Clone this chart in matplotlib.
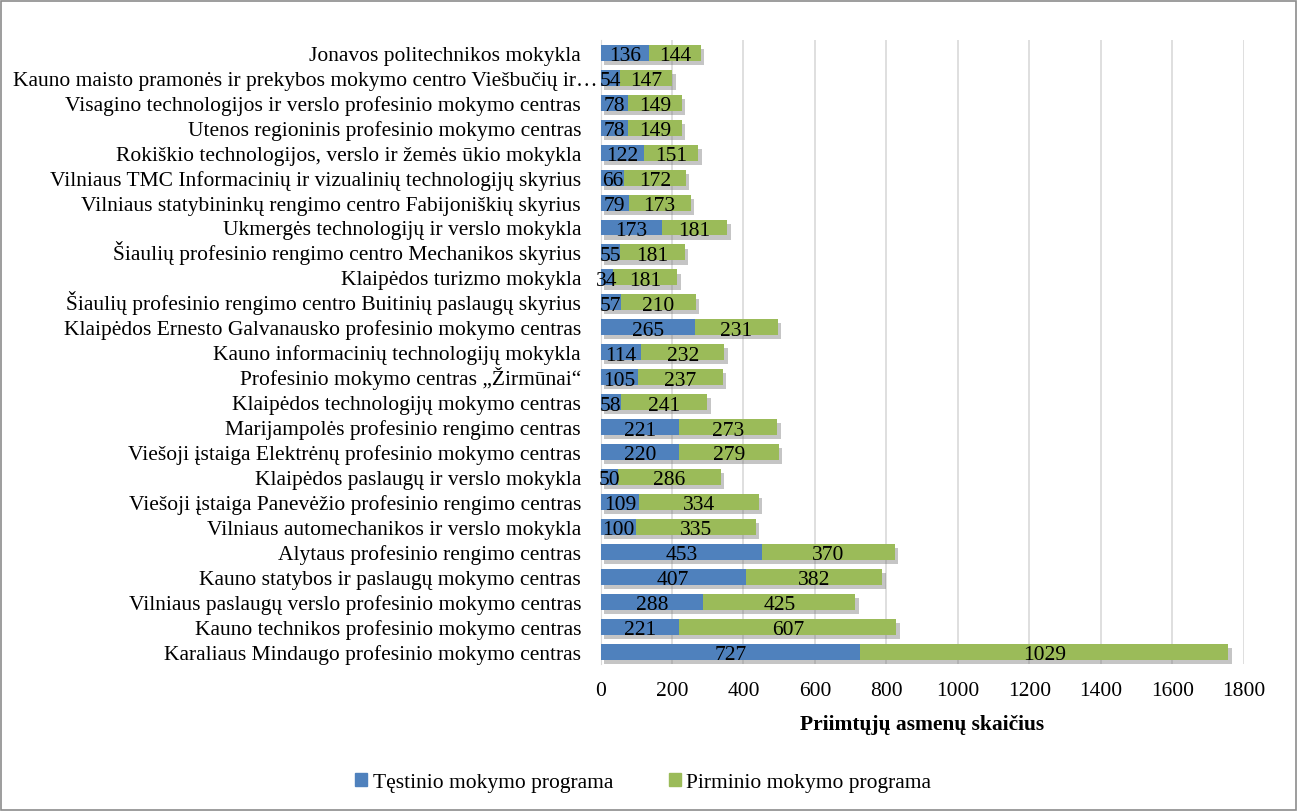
import numpy as np
import matplotlib
matplotlib.use("Agg")
import matplotlib.pyplot as plt
import matplotlib.patheffects as pe
import matplotlib.transforms as mtransforms
from matplotlib.patches import Rectangle, Patch

plt.rcParams['font.family'] = ['Liberation Serif', 'DejaVu Serif']

# Schools, listed from the bottom of the chart to the top
schools = [
    "Karaliaus Mindaugo profesinio mokymo centras",
    "Kauno technikos profesinio mokymo centras",
    "Vilniaus paslaugų verslo profesinio mokymo centras",
    "Kauno statybos ir paslaugų mokymo centras",
    "Alytaus profesinio rengimo centras",
    "Vilniaus automechanikos ir verslo mokykla",
    "Viešoji įstaiga Panevėžio profesinio rengimo centras",
    "Klaipėdos paslaugų ir verslo mokykla",
    "Viešoji įstaiga Elektrėnų profesinio mokymo centras",
    "Marijampolės profesinio rengimo centras",
    "Klaipėdos technologijų mokymo centras",
    "Profesinio mokymo centras „Žirmūnai“",
    "Kauno informacinių technologijų mokykla",
    "Klaipėdos Ernesto Galvanausko profesinio mokymo centras",
    "Šiaulių profesinio rengimo centro Buitinių paslaugų skyrius",
    "Klaipėdos turizmo mokykla",
    "Šiaulių profesinio rengimo centro Mechanikos skyrius",
    "Ukmergės technologijų ir verslo mokykla",
    "Vilniaus statybininkų rengimo centro Fabijoniškių skyrius",
    "Vilniaus TMC Informacinių ir vizualinių technologijų skyrius",
    "Rokiškio technologijos, verslo ir žemės ūkio mokykla",
    "Utenos regioninis profesinio mokymo centras",
    "Visagino technologijos ir verslo profesinio mokymo centras",
    "Kauno maisto pramonės ir prekybos mokymo centro Viešbučių ir…",
    "Jonavos politechnikos mokykla",
]
tęstinio = [727, 221, 288, 407, 453, 100, 109, 50, 220, 221, 58, 105, 114, 265,
            57, 34, 55, 173, 79, 66, 122, 78, 78, 54, 136]
pirminio = [1029, 607, 425, 382, 370, 335, 334, 286, 279, 273, 241, 237, 232, 231,
            210, 181, 181, 181, 173, 172, 151, 149, 149, 147, 144]

blue = "#4F81BD"
green = "#9BBB59"
fs = 15.5

fig = plt.figure(figsize=(12.97, 8.12), dpi=100)
ax = fig.add_axes([0.463, 0.181, 0.496, 0.768])

def shift(dx_px, dy_px):
    return mtransforms.ScaledTranslation(dx_px / 100, dy_px / 100, fig.dpi_scale_trans)

y = np.arange(len(schools))
t = np.array(tęstinio)
p = np.array(pirminio)
shadow = [pe.SimplePatchShadow(offset=(2.5, -3), shadow_rgbFace="#6f6f6f", alpha=0.4), pe.Normal()]

b1 = ax.barh(y, t, height=0.64, color=blue, zorder=3)
b2 = ax.barh(y, p, left=t, height=0.64, color=green, zorder=3)
for bar in list(b2) + list(b1):
    bar.set_path_effects(shadow)

# numbers sit on a common baseline a little below the bar middle
num_tr = ax.transData + shift(0, -7.5)
for i in range(len(y)):
    ax.text(t[i] / 2, y[i], str(t[i]), ha="center", va="baseline", fontsize=fs, zorder=5, transform=num_tr)
    ax.text(t[i] + p[i] / 2, y[i], str(p[i]), ha="center", va="baseline", fontsize=fs, zorder=5, transform=num_tr)

ax.set_xlim(0, 1800)
ax.set_ylim(-0.5, len(schools) - 0.5)
ax.set_xticks(np.arange(0, 1801, 200))
ax.set_yticks(y)
ax.set_yticklabels(schools)
ax.tick_params(axis="both", length=0, labelsize=fs)
ax.tick_params(axis="y", pad=14)
ax.tick_params(axis="x", pad=12)
ax.xaxis.grid(True, color="#D9D9D9", linewidth=1.2, zorder=0)
ax.set_axisbelow(True)
for s in ["top", "right", "bottom"]:
    ax.spines[s].set_visible(False)
ax.spines["left"].set_color("#D9D9D9")
ax.set_xlabel("Priimtųjų asmenų skaičius", fontsize=fs, fontweight="bold", labelpad=10)

# same baseline for every school name, accents or not
for k, lbl in enumerate(ax.get_yticklabels()):
    lbl.set_va("baseline")
    dx = 16 if k == 23 else 0   # truncated long name runs up to the bar
    lbl.set_transform(lbl.get_transform() + shift(dx, -7))

handles = [Patch(color=blue, label="Tęstinio mokymo programa"),
           Patch(color=green, label="Pirminio mokymo programa")]
ax.legend(handles=handles, loc="center", bbox_to_anchor=(0.496, 0.035), bbox_transform=fig.transFigure,
          ncol=2, frameon=False, fontsize=fs, handlelength=0.55, handleheight=0.55,
          handletextpad=0.25, columnspacing=2.6)

fig.patches.append(Rectangle((0.001, 0.001), 0.998, 0.997, transform=fig.transFigure,
                             fill=False, edgecolor="#8c8c8c", linewidth=1.2))

fig.savefig("out.png", dpi=100)
